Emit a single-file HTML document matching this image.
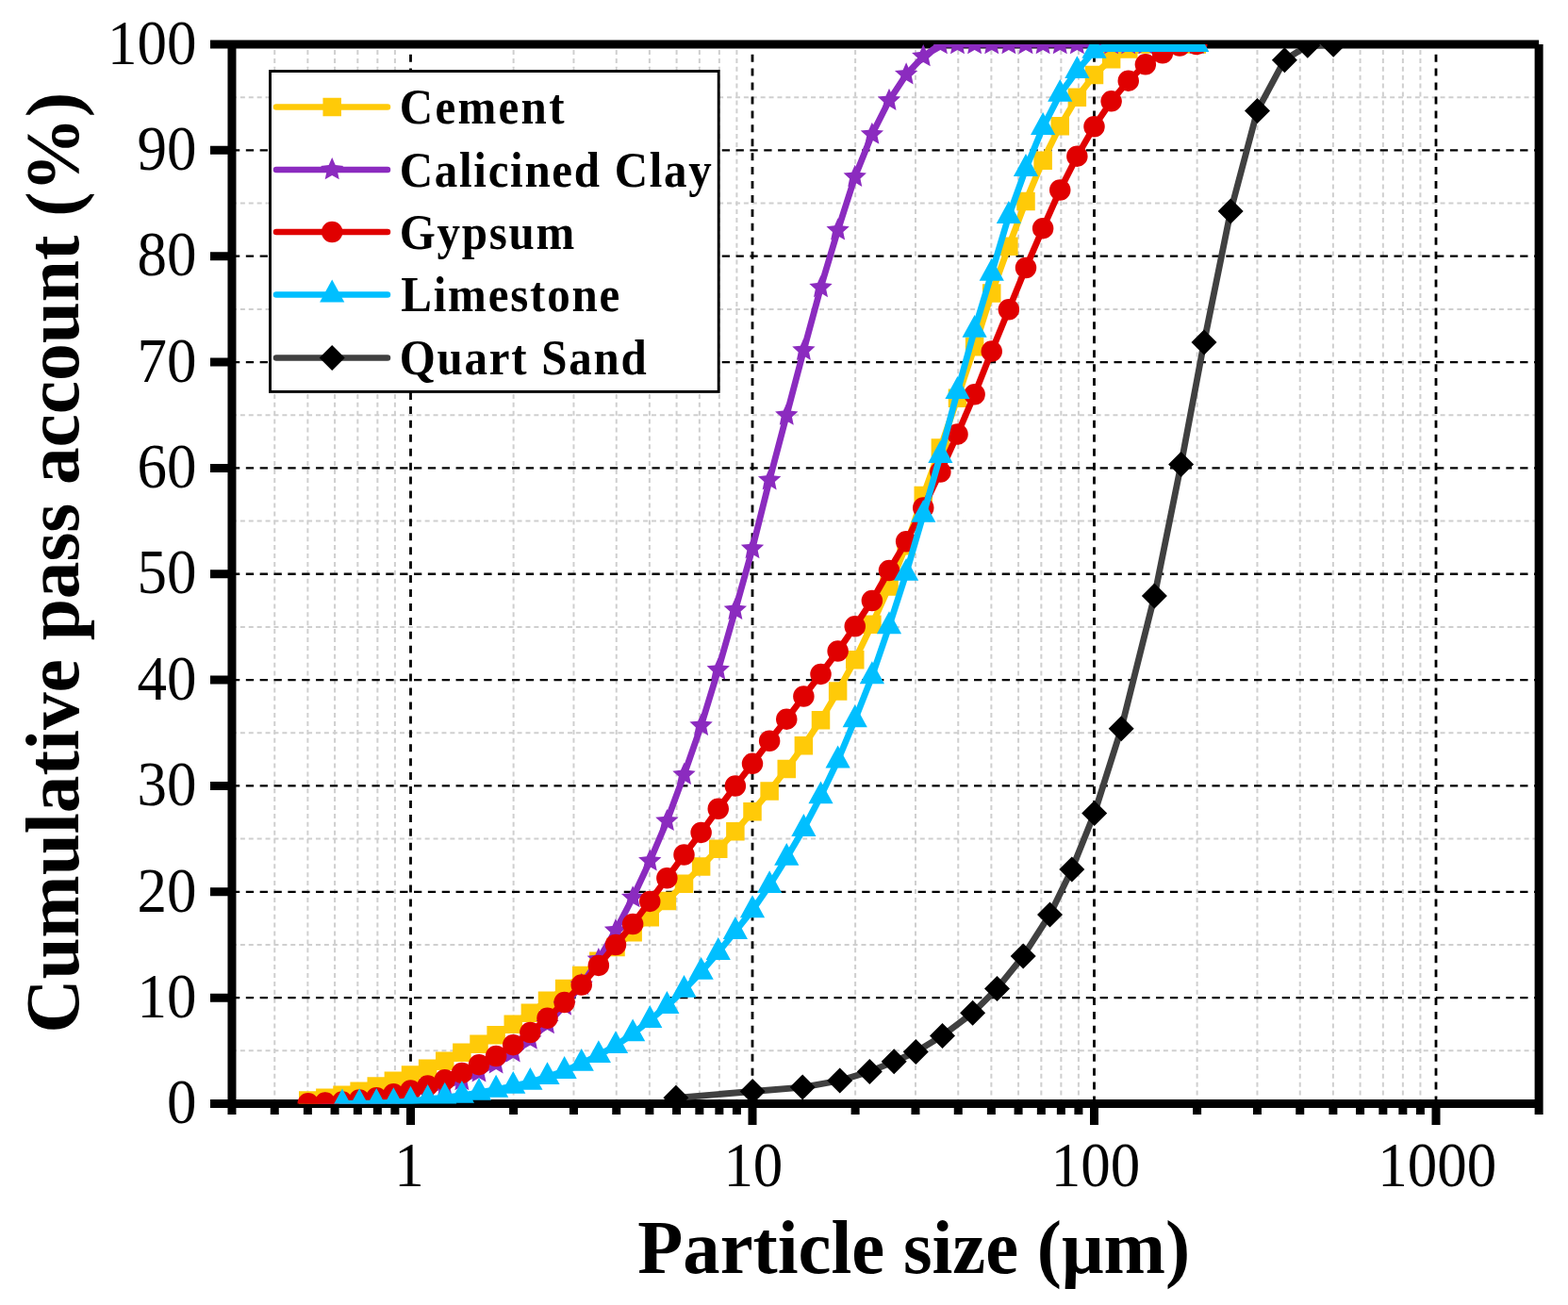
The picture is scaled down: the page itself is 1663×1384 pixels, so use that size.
<!DOCTYPE html>
<html><head><meta charset="utf-8"><title>Particle size distribution</title>
<style>html,body{margin:0;padding:0;background:#fff;}svg{display:block;}</style></head>
<body>
<svg width="1663" height="1384" viewBox="0 0 1663 1384">
<rect width="1663" height="1384" fill="#fff"/>
<defs><clipPath id="pa"><rect x="245.96" y="47" width="1386.17" height="1123.5"/></clipPath></defs>

<path fill="none" stroke="#CFCFCF" stroke-width="2" stroke-dasharray="5 3.9" d="M245.96 1170.5V47M291.25 1170.5V47M326.38 1170.5V47M355.08 1170.5V47M379.35 1170.5V47M400.37 1170.5V47M418.91 1170.5V47M544.62 1170.5V47M608.46 1170.5V47M653.75 1170.5V47M688.88 1170.5V47M717.58 1170.5V47M741.85 1170.5V47M762.87 1170.5V47M781.41 1170.5V47M907.12 1170.5V47M970.96 1170.5V47M1016.25 1170.5V47M1051.38 1170.5V47M1080.08 1170.5V47M1104.35 1170.5V47M1125.37 1170.5V47M1143.91 1170.5V47M1269.62 1170.5V47M1333.46 1170.5V47M1378.75 1170.5V47M1413.88 1170.5V47M1442.58 1170.5V47M1466.85 1170.5V47M1487.87 1170.5V47M1506.41 1170.5V47"/>
<path fill="none" stroke="#CFCFCF" stroke-width="2" stroke-dasharray="5 3.9" d="M245.96 1114.33H1632.12M245.96 1001.98H1632.12M245.96 889.62H1632.12M245.96 777.28H1632.12M245.96 664.92H1632.12M245.96 552.58H1632.12M245.96 440.23H1632.12M245.96 327.88H1632.12M245.96 215.53H1632.12M245.96 103.17H1632.12"/>
<path fill="none" stroke="#000" stroke-width="2.8" stroke-dasharray="8 6.93" d="M435.5 1170.5V47M798 1170.5V47M1160.5 1170.5V47M1523 1170.5V47"/>
<path fill="none" stroke="#000" stroke-width="2.3" stroke-dasharray="8.3 6.55" d="M245.96 1058.15H1632.12M245.96 945.8H1632.12M245.96 833.45H1632.12M245.96 721.1H1632.12M245.96 608.75H1632.12M245.96 496.4H1632.12M245.96 384.05H1632.12M245.96 271.7H1632.12M245.96 159.35H1632.12"/>
<path fill="none" stroke="#000" stroke-width="9.0" stroke-linecap="butt" d="M245.96 47H1632.12M245.96 1170.5H1632.12M245.96 47V1170.5M1632.12 47V1170.5M245.96 1170.5H223M245.96 1058.15H223M245.96 945.8H223M245.96 833.45H223M245.96 721.1H223M245.96 608.75H223M245.96 496.4H223M245.96 384.05H223M245.96 271.7H223M245.96 159.35H223M245.96 47H223M435.5 1170.5V1193M798 1170.5V1193M1160.5 1170.5V1193M1523 1170.5V1193M245.96 1170.5V1182M291.25 1170.5V1182M326.38 1170.5V1182M355.08 1170.5V1182M379.35 1170.5V1182M400.37 1170.5V1182M418.91 1170.5V1182M544.62 1170.5V1182M608.46 1170.5V1182M653.75 1170.5V1182M688.88 1170.5V1182M717.58 1170.5V1182M741.85 1170.5V1182M762.87 1170.5V1182M781.41 1170.5V1182M907.12 1170.5V1182M970.96 1170.5V1182M1016.25 1170.5V1182M1051.38 1170.5V1182M1080.08 1170.5V1182M1104.35 1170.5V1182M1125.37 1170.5V1182M1143.91 1170.5V1182M1269.62 1170.5V1182M1333.46 1170.5V1182M1378.75 1170.5V1182M1413.88 1170.5V1182M1442.58 1170.5V1182M1466.85 1170.5V1182M1487.87 1170.5V1182M1506.41 1170.5V1182M1632.12 1170.5V1182"/>
<g clip-path="url(#pa)">
<polyline fill="none" stroke="#FFCA08" stroke-width="6.8" stroke-linejoin="round" stroke-linecap="round" points="326.75,1167.02 344.88,1164.21 363,1161.17 381.12,1157.24 399.25,1152.07 417.38,1146.23 435.5,1140.05 453.62,1133.2 471.75,1125.22 489.88,1116.23 508,1107.25 526.12,1097.7 544.25,1086.24 562.38,1074.33 580.5,1061.3 598.62,1048.49 616.75,1034.56 634.88,1019.28 653,1004.45 671.12,988.72 689.25,972.76 707.38,955.46 725.5,937.37 743.62,919.06 761.75,900.3 779.88,881.76 798,860.86 816.12,838.96 834.25,815.47 852.38,790.76 870.5,763.79 888.62,733.12 906.75,699.87 924.88,662.34 943,622.01 961.12,578.75 979.25,525.61 997.38,475.05 1015.5,422.25 1033.62,367.87 1051.75,311.02 1069.88,261.14 1088,213.39 1106.12,170.14 1124.25,133.73 1142.38,103.17 1160.5,79.58 1178.62,62.73 1196.75,51.94 1214.88,47 1233,47 1251.12,47 1269.25,47"/>
<path fill="#FFCA08" d="M317 1157.27h19.5v19.5h-19.5zM335.12 1154.46h19.5v19.5h-19.5zM353.25 1151.42h19.5v19.5h-19.5zM371.38 1147.49h19.5v19.5h-19.5zM389.5 1142.32h19.5v19.5h-19.5zM407.62 1136.48h19.5v19.5h-19.5zM425.75 1130.3h19.5v19.5h-19.5zM443.88 1123.45h19.5v19.5h-19.5zM462 1115.47h19.5v19.5h-19.5zM480.12 1106.48h19.5v19.5h-19.5zM498.25 1097.5h19.5v19.5h-19.5zM516.38 1087.95h19.5v19.5h-19.5zM534.5 1076.49h19.5v19.5h-19.5zM552.62 1064.58h19.5v19.5h-19.5zM570.75 1051.55h19.5v19.5h-19.5zM588.88 1038.74h19.5v19.5h-19.5zM607 1024.81h19.5v19.5h-19.5zM625.12 1009.53h19.5v19.5h-19.5zM643.25 994.7h19.5v19.5h-19.5zM661.38 978.97h19.5v19.5h-19.5zM679.5 963.01h19.5v19.5h-19.5zM697.62 945.71h19.5v19.5h-19.5zM715.75 927.62h19.5v19.5h-19.5zM733.88 909.31h19.5v19.5h-19.5zM752 890.55h19.5v19.5h-19.5zM770.12 872.01h19.5v19.5h-19.5zM788.25 851.11h19.5v19.5h-19.5zM806.38 829.21h19.5v19.5h-19.5zM824.5 805.72h19.5v19.5h-19.5zM842.62 781.01h19.5v19.5h-19.5zM860.75 754.04h19.5v19.5h-19.5zM878.88 723.37h19.5v19.5h-19.5zM897 690.12h19.5v19.5h-19.5zM915.12 652.59h19.5v19.5h-19.5zM933.25 612.26h19.5v19.5h-19.5zM951.38 569h19.5v19.5h-19.5zM969.5 515.86h19.5v19.5h-19.5zM987.62 465.3h19.5v19.5h-19.5zM1005.75 412.5h19.5v19.5h-19.5zM1023.88 358.12h19.5v19.5h-19.5zM1042 301.27h19.5v19.5h-19.5zM1060.12 251.39h19.5v19.5h-19.5zM1078.25 203.64h19.5v19.5h-19.5zM1096.38 160.39h19.5v19.5h-19.5zM1114.5 123.98h19.5v19.5h-19.5zM1132.62 93.42h19.5v19.5h-19.5zM1150.75 69.83h19.5v19.5h-19.5zM1168.88 52.98h19.5v19.5h-19.5zM1187 42.19h19.5v19.5h-19.5zM1205.12 37.25h19.5v19.5h-19.5zM1223.25 37.25h19.5v19.5h-19.5zM1241.38 37.25h19.5v19.5h-19.5zM1259.5 37.25h19.5v19.5h-19.5z"/>
<polyline fill="none" stroke="#8B2BBF" stroke-width="6.8" stroke-linejoin="round" stroke-linecap="round" points="344.88,1170.5 363,1169.38 381.12,1168.25 399.25,1166.01 417.38,1163.2 435.5,1159.83 453.62,1155.89 471.75,1151.4 489.88,1145.78 508,1137.13 526.12,1128.03 544.25,1116.12 562.38,1102.42 580.5,1085.9 598.62,1066.35 616.75,1044.67 634.88,1017.7 653,986.81 671.12,951.98 689.25,913.22 707.38,870.75 725.5,821.65 743.62,769.52 761.75,710.31 779.88,646.72 798,581.79 816.12,509.1 834.25,440.45 852.38,371.58 870.5,304.84 888.62,244.17 906.75,187.55 924.88,142.5 943,106.55 961.12,79.02 979.25,59.92 997.38,47 1015.5,47 1033.62,47 1051.75,47 1069.88,47 1088,47 1106.12,47 1124.25,47 1142.38,47 1160.5,47 1178.62,47 1196.75,47 1214.88,47 1233,47 1251.12,47 1269.25,47"/>
<path fill="#8B2BBF" d="M344.88 1157.7 L348.4 1165.65 L357.05 1166.54 L350.58 1172.35 L352.4 1180.86 L344.88 1176.5 L337.35 1180.86 L339.17 1172.35 L332.7 1166.54 L341.35 1165.65zM363 1156.58 L366.53 1164.52 L375.17 1165.42 L368.71 1171.23 L370.52 1179.73 L363 1175.38 L355.48 1179.73 L357.29 1171.23 L350.83 1165.42 L359.47 1164.52zM381.12 1155.45 L384.65 1163.4 L393.3 1164.3 L386.83 1170.11 L388.65 1178.61 L381.12 1174.25 L373.6 1178.61 L375.42 1170.11 L368.95 1164.3 L377.6 1163.4zM399.25 1153.21 L402.78 1161.15 L411.42 1162.05 L404.96 1167.86 L406.77 1176.36 L399.25 1172.01 L391.73 1176.36 L393.54 1167.86 L387.08 1162.05 L395.72 1161.15zM417.38 1150.4 L420.9 1158.34 L429.55 1159.24 L423.08 1165.05 L424.9 1173.55 L417.38 1169.2 L409.85 1173.55 L411.67 1165.05 L405.2 1159.24 L413.85 1158.34zM435.5 1147.03 L439.03 1154.97 L447.67 1155.87 L441.21 1161.68 L443.02 1170.18 L435.5 1165.83 L427.98 1170.18 L429.79 1161.68 L423.33 1155.87 L431.97 1154.97zM453.62 1143.09 L457.15 1151.04 L465.8 1151.94 L459.33 1157.75 L461.15 1166.25 L453.62 1161.89 L446.1 1166.25 L447.92 1157.75 L441.45 1151.94 L450.1 1151.04zM471.75 1138.6 L475.28 1146.55 L483.92 1147.45 L477.46 1153.25 L479.27 1161.76 L471.75 1157.4 L464.23 1161.76 L466.04 1153.25 L459.58 1147.45 L468.22 1146.55zM489.88 1132.98 L493.4 1140.93 L502.05 1141.83 L495.58 1147.64 L497.4 1156.14 L489.88 1151.78 L482.35 1156.14 L484.17 1147.64 L477.7 1141.83 L486.35 1140.93zM508 1124.33 L511.53 1132.28 L520.17 1133.18 L513.71 1138.99 L515.52 1147.49 L508 1143.13 L500.48 1147.49 L502.29 1138.99 L495.83 1133.18 L504.47 1132.28zM526.12 1115.23 L529.65 1123.18 L538.3 1124.08 L531.83 1129.89 L533.65 1138.39 L526.12 1134.03 L518.6 1138.39 L520.42 1129.89 L513.95 1124.08 L522.6 1123.18zM544.25 1103.32 L547.78 1111.27 L556.42 1112.17 L549.96 1117.98 L551.77 1126.48 L544.25 1122.12 L536.73 1126.48 L538.54 1117.98 L532.08 1112.17 L540.72 1111.27zM562.38 1089.62 L565.9 1097.56 L574.55 1098.46 L568.08 1104.27 L569.9 1112.77 L562.38 1108.42 L554.85 1112.77 L556.67 1104.27 L550.2 1098.46 L558.85 1097.56zM580.5 1073.1 L584.03 1081.05 L592.67 1081.95 L586.21 1087.75 L588.02 1096.26 L580.5 1091.9 L572.98 1096.26 L574.79 1087.75 L568.33 1081.95 L576.97 1081.05zM598.62 1053.55 L602.15 1061.5 L610.8 1062.4 L604.33 1068.21 L606.15 1076.71 L598.62 1072.35 L591.1 1076.71 L592.92 1068.21 L586.45 1062.4 L595.1 1061.5zM616.75 1031.87 L620.28 1039.81 L628.92 1040.71 L622.46 1046.52 L624.27 1055.02 L616.75 1050.67 L609.23 1055.02 L611.04 1046.52 L604.58 1040.71 L613.22 1039.81zM634.88 1004.9 L638.4 1012.85 L647.05 1013.75 L640.58 1019.56 L642.4 1028.06 L634.88 1023.7 L627.35 1028.06 L629.17 1019.56 L622.7 1013.75 L631.35 1012.85zM653 974.01 L656.53 981.95 L665.17 982.85 L658.71 988.66 L660.52 997.16 L653 992.81 L645.48 997.16 L647.29 988.66 L640.83 982.85 L649.47 981.95zM671.12 939.18 L674.65 947.13 L683.3 948.02 L676.83 953.83 L678.65 962.33 L671.12 957.98 L663.6 962.33 L665.42 953.83 L658.95 948.02 L667.6 947.13zM689.25 900.42 L692.78 908.36 L701.42 909.26 L694.96 915.07 L696.77 923.57 L689.25 919.22 L681.73 923.57 L683.54 915.07 L677.08 909.26 L685.72 908.36zM707.38 857.95 L710.9 865.9 L719.55 866.79 L713.08 872.6 L714.9 881.11 L707.38 876.75 L699.85 881.11 L701.67 872.6 L695.2 866.79 L703.85 865.9zM725.5 808.85 L729.03 816.8 L737.67 817.7 L731.21 823.51 L733.02 832.01 L725.5 827.65 L717.98 832.01 L719.79 823.51 L713.33 817.7 L721.97 816.8zM743.62 756.72 L747.15 764.67 L755.8 765.57 L749.33 771.38 L751.15 779.88 L743.62 775.52 L736.1 779.88 L737.92 771.38 L731.45 765.57 L740.1 764.67zM761.75 697.51 L765.28 705.46 L773.92 706.36 L767.46 712.17 L769.27 720.67 L761.75 716.31 L754.23 720.67 L756.04 712.17 L749.58 706.36 L758.22 705.46zM779.88 633.92 L783.4 641.87 L792.05 642.77 L785.58 648.58 L787.4 657.08 L779.88 652.72 L772.35 657.08 L774.17 648.58 L767.7 642.77 L776.35 641.87zM798 568.99 L801.53 576.93 L810.17 577.83 L803.71 583.64 L805.52 592.14 L798 587.79 L790.48 592.14 L792.29 583.64 L785.83 577.83 L794.47 576.93zM816.12 496.3 L819.65 504.24 L828.3 505.14 L821.83 510.95 L823.65 519.45 L816.12 515.1 L808.6 519.45 L810.42 510.95 L803.95 505.14 L812.6 504.24zM834.25 427.65 L837.78 435.6 L846.42 436.49 L839.96 442.3 L841.77 450.81 L834.25 446.45 L826.73 450.81 L828.54 442.3 L822.08 436.49 L830.72 435.6zM852.38 358.78 L855.9 366.73 L864.55 367.62 L858.08 373.43 L859.9 381.93 L852.38 377.58 L844.85 381.93 L846.67 373.43 L840.2 367.62 L848.85 366.73zM870.5 292.04 L874.03 299.99 L882.67 300.89 L876.21 306.7 L878.02 315.2 L870.5 310.84 L862.98 315.2 L864.79 306.7 L858.33 300.89 L866.97 299.99zM888.62 231.37 L892.15 239.32 L900.8 240.22 L894.33 246.03 L896.15 254.53 L888.62 250.17 L881.1 254.53 L882.92 246.03 L876.45 240.22 L885.1 239.32zM906.75 174.75 L910.28 182.7 L918.92 183.59 L912.46 189.4 L914.27 197.91 L906.75 193.55 L899.23 197.91 L901.04 189.4 L894.58 183.59 L903.22 182.7zM924.88 129.7 L928.4 137.64 L937.05 138.54 L930.58 144.35 L932.4 152.85 L924.88 148.5 L917.35 152.85 L919.17 144.35 L912.7 138.54 L921.35 137.64zM943 93.75 L946.53 101.69 L955.17 102.59 L948.71 108.4 L950.52 116.9 L943 112.55 L935.48 116.9 L937.29 108.4 L930.83 102.59 L939.47 101.69zM961.12 66.22 L964.65 74.17 L973.3 75.06 L966.83 80.87 L968.65 89.38 L961.12 85.02 L953.6 89.38 L955.42 80.87 L948.95 75.06 L957.6 74.17zM979.25 47.12 L982.78 55.07 L991.42 55.96 L984.96 61.77 L986.77 70.28 L979.25 65.92 L971.73 70.28 L973.54 61.77 L967.08 55.96 L975.72 55.07zM997.38 34.2 L1000.9 42.15 L1009.55 43.04 L1003.08 48.85 L1004.9 57.36 L997.38 53 L989.85 57.36 L991.67 48.85 L985.2 43.04 L993.85 42.15zM1015.5 34.2 L1019.03 42.15 L1027.67 43.04 L1021.21 48.85 L1023.02 57.36 L1015.5 53 L1007.98 57.36 L1009.79 48.85 L1003.33 43.04 L1011.97 42.15zM1033.62 34.2 L1037.15 42.15 L1045.8 43.04 L1039.33 48.85 L1041.15 57.36 L1033.62 53 L1026.1 57.36 L1027.92 48.85 L1021.45 43.04 L1030.1 42.15zM1051.75 34.2 L1055.28 42.15 L1063.92 43.04 L1057.46 48.85 L1059.27 57.36 L1051.75 53 L1044.23 57.36 L1046.04 48.85 L1039.58 43.04 L1048.22 42.15zM1069.88 34.2 L1073.4 42.15 L1082.05 43.04 L1075.58 48.85 L1077.4 57.36 L1069.88 53 L1062.35 57.36 L1064.17 48.85 L1057.7 43.04 L1066.35 42.15zM1088 34.2 L1091.53 42.15 L1100.17 43.04 L1093.71 48.85 L1095.52 57.36 L1088 53 L1080.48 57.36 L1082.29 48.85 L1075.83 43.04 L1084.47 42.15zM1106.12 34.2 L1109.65 42.15 L1118.3 43.04 L1111.83 48.85 L1113.65 57.36 L1106.12 53 L1098.6 57.36 L1100.42 48.85 L1093.95 43.04 L1102.6 42.15zM1124.25 34.2 L1127.78 42.15 L1136.42 43.04 L1129.96 48.85 L1131.77 57.36 L1124.25 53 L1116.73 57.36 L1118.54 48.85 L1112.08 43.04 L1120.72 42.15zM1142.38 34.2 L1145.9 42.15 L1154.55 43.04 L1148.08 48.85 L1149.9 57.36 L1142.38 53 L1134.85 57.36 L1136.67 48.85 L1130.2 43.04 L1138.85 42.15zM1160.5 34.2 L1164.03 42.15 L1172.67 43.04 L1166.21 48.85 L1168.02 57.36 L1160.5 53 L1152.98 57.36 L1154.79 48.85 L1148.33 43.04 L1156.97 42.15zM1178.62 34.2 L1182.15 42.15 L1190.8 43.04 L1184.33 48.85 L1186.15 57.36 L1178.62 53 L1171.1 57.36 L1172.92 48.85 L1166.45 43.04 L1175.1 42.15zM1196.75 34.2 L1200.28 42.15 L1208.92 43.04 L1202.46 48.85 L1204.27 57.36 L1196.75 53 L1189.23 57.36 L1191.04 48.85 L1184.58 43.04 L1193.22 42.15zM1214.88 34.2 L1218.4 42.15 L1227.05 43.04 L1220.58 48.85 L1222.4 57.36 L1214.88 53 L1207.35 57.36 L1209.17 48.85 L1202.7 43.04 L1211.35 42.15zM1233 34.2 L1236.53 42.15 L1245.17 43.04 L1238.71 48.85 L1240.52 57.36 L1233 53 L1225.48 57.36 L1227.29 48.85 L1220.83 43.04 L1229.47 42.15zM1251.12 34.2 L1254.65 42.15 L1263.3 43.04 L1256.83 48.85 L1258.65 57.36 L1251.12 53 L1243.6 57.36 L1245.42 48.85 L1238.95 43.04 L1247.6 42.15zM1269.25 34.2 L1272.78 42.15 L1281.42 43.04 L1274.96 48.85 L1276.77 57.36 L1269.25 53 L1261.73 57.36 L1263.54 48.85 L1257.08 43.04 L1265.72 42.15z"/>
<polyline fill="none" stroke="#E00000" stroke-width="6.8" stroke-linejoin="round" stroke-linecap="round" points="326.75,1170.16 344.88,1169.6 363,1168.59 381.12,1166.57 399.25,1164.21 417.38,1160.16 435.5,1156.46 453.62,1151.4 471.75,1145.22 489.88,1137.92 508,1129.16 526.12,1119.94 544.25,1108.15 562.38,1095 580.5,1079.72 598.62,1062.98 616.75,1044.44 634.88,1023.88 653,1001.98 671.12,980.07 689.25,955.91 707.38,931.19 725.5,906.48 743.62,882.88 761.75,857.72 779.88,833.45 798,809.86 816.12,785.7 834.25,762.67 852.38,738.51 870.5,714.92 888.62,690.54 906.75,664.25 924.88,636.95 943,605.04 961.12,574.26 979.25,538.53 997.38,500.44 1015.5,460.45 1033.62,418.2 1051.75,372.59 1069.88,328.32 1088,283.95 1106.12,242.15 1124.25,201.48 1142.38,165.64 1160.5,134.18 1178.62,107.33 1196.75,85.65 1214.88,68.35 1233,56.21 1251.12,48.46 1269.25,47"/>
<path fill="#E00000" d="M315.5 1170.16a11.25 11.25 0 1 0 22.5 0a11.25 11.25 0 1 0 -22.5 0zM333.62 1169.6a11.25 11.25 0 1 0 22.5 0a11.25 11.25 0 1 0 -22.5 0zM351.75 1168.59a11.25 11.25 0 1 0 22.5 0a11.25 11.25 0 1 0 -22.5 0zM369.88 1166.57a11.25 11.25 0 1 0 22.5 0a11.25 11.25 0 1 0 -22.5 0zM388 1164.21a11.25 11.25 0 1 0 22.5 0a11.25 11.25 0 1 0 -22.5 0zM406.12 1160.16a11.25 11.25 0 1 0 22.5 0a11.25 11.25 0 1 0 -22.5 0zM424.25 1156.46a11.25 11.25 0 1 0 22.5 0a11.25 11.25 0 1 0 -22.5 0zM442.38 1151.4a11.25 11.25 0 1 0 22.5 0a11.25 11.25 0 1 0 -22.5 0zM460.5 1145.22a11.25 11.25 0 1 0 22.5 0a11.25 11.25 0 1 0 -22.5 0zM478.62 1137.92a11.25 11.25 0 1 0 22.5 0a11.25 11.25 0 1 0 -22.5 0zM496.75 1129.16a11.25 11.25 0 1 0 22.5 0a11.25 11.25 0 1 0 -22.5 0zM514.88 1119.94a11.25 11.25 0 1 0 22.5 0a11.25 11.25 0 1 0 -22.5 0zM533 1108.15a11.25 11.25 0 1 0 22.5 0a11.25 11.25 0 1 0 -22.5 0zM551.12 1095a11.25 11.25 0 1 0 22.5 0a11.25 11.25 0 1 0 -22.5 0zM569.25 1079.72a11.25 11.25 0 1 0 22.5 0a11.25 11.25 0 1 0 -22.5 0zM587.38 1062.98a11.25 11.25 0 1 0 22.5 0a11.25 11.25 0 1 0 -22.5 0zM605.5 1044.44a11.25 11.25 0 1 0 22.5 0a11.25 11.25 0 1 0 -22.5 0zM623.62 1023.88a11.25 11.25 0 1 0 22.5 0a11.25 11.25 0 1 0 -22.5 0zM641.75 1001.98a11.25 11.25 0 1 0 22.5 0a11.25 11.25 0 1 0 -22.5 0zM659.88 980.07a11.25 11.25 0 1 0 22.5 0a11.25 11.25 0 1 0 -22.5 0zM678 955.91a11.25 11.25 0 1 0 22.5 0a11.25 11.25 0 1 0 -22.5 0zM696.12 931.19a11.25 11.25 0 1 0 22.5 0a11.25 11.25 0 1 0 -22.5 0zM714.25 906.48a11.25 11.25 0 1 0 22.5 0a11.25 11.25 0 1 0 -22.5 0zM732.38 882.88a11.25 11.25 0 1 0 22.5 0a11.25 11.25 0 1 0 -22.5 0zM750.5 857.72a11.25 11.25 0 1 0 22.5 0a11.25 11.25 0 1 0 -22.5 0zM768.62 833.45a11.25 11.25 0 1 0 22.5 0a11.25 11.25 0 1 0 -22.5 0zM786.75 809.86a11.25 11.25 0 1 0 22.5 0a11.25 11.25 0 1 0 -22.5 0zM804.88 785.7a11.25 11.25 0 1 0 22.5 0a11.25 11.25 0 1 0 -22.5 0zM823 762.67a11.25 11.25 0 1 0 22.5 0a11.25 11.25 0 1 0 -22.5 0zM841.12 738.51a11.25 11.25 0 1 0 22.5 0a11.25 11.25 0 1 0 -22.5 0zM859.25 714.92a11.25 11.25 0 1 0 22.5 0a11.25 11.25 0 1 0 -22.5 0zM877.38 690.54a11.25 11.25 0 1 0 22.5 0a11.25 11.25 0 1 0 -22.5 0zM895.5 664.25a11.25 11.25 0 1 0 22.5 0a11.25 11.25 0 1 0 -22.5 0zM913.62 636.95a11.25 11.25 0 1 0 22.5 0a11.25 11.25 0 1 0 -22.5 0zM931.75 605.04a11.25 11.25 0 1 0 22.5 0a11.25 11.25 0 1 0 -22.5 0zM949.88 574.26a11.25 11.25 0 1 0 22.5 0a11.25 11.25 0 1 0 -22.5 0zM968 538.53a11.25 11.25 0 1 0 22.5 0a11.25 11.25 0 1 0 -22.5 0zM986.12 500.44a11.25 11.25 0 1 0 22.5 0a11.25 11.25 0 1 0 -22.5 0zM1004.25 460.45a11.25 11.25 0 1 0 22.5 0a11.25 11.25 0 1 0 -22.5 0zM1022.38 418.2a11.25 11.25 0 1 0 22.5 0a11.25 11.25 0 1 0 -22.5 0zM1040.5 372.59a11.25 11.25 0 1 0 22.5 0a11.25 11.25 0 1 0 -22.5 0zM1058.62 328.32a11.25 11.25 0 1 0 22.5 0a11.25 11.25 0 1 0 -22.5 0zM1076.75 283.95a11.25 11.25 0 1 0 22.5 0a11.25 11.25 0 1 0 -22.5 0zM1094.88 242.15a11.25 11.25 0 1 0 22.5 0a11.25 11.25 0 1 0 -22.5 0zM1113 201.48a11.25 11.25 0 1 0 22.5 0a11.25 11.25 0 1 0 -22.5 0zM1131.12 165.64a11.25 11.25 0 1 0 22.5 0a11.25 11.25 0 1 0 -22.5 0zM1149.25 134.18a11.25 11.25 0 1 0 22.5 0a11.25 11.25 0 1 0 -22.5 0zM1167.38 107.33a11.25 11.25 0 1 0 22.5 0a11.25 11.25 0 1 0 -22.5 0zM1185.5 85.65a11.25 11.25 0 1 0 22.5 0a11.25 11.25 0 1 0 -22.5 0zM1203.62 68.35a11.25 11.25 0 1 0 22.5 0a11.25 11.25 0 1 0 -22.5 0zM1221.75 56.21a11.25 11.25 0 1 0 22.5 0a11.25 11.25 0 1 0 -22.5 0zM1239.88 48.46a11.25 11.25 0 1 0 22.5 0a11.25 11.25 0 1 0 -22.5 0zM1258 47a11.25 11.25 0 1 0 22.5 0a11.25 11.25 0 1 0 -22.5 0z"/>
<polyline fill="none" stroke="#00BFFF" stroke-width="6.8" stroke-linejoin="round" stroke-linecap="round" points="363,1170.5 381.12,1170.05 399.25,1169.94 417.38,1169.04 435.5,1167.69 453.62,1165.78 471.75,1163.76 489.88,1161.85 508,1158.82 526.12,1155.67 544.25,1151.85 562.38,1147.81 580.5,1142.08 598.62,1135.9 616.75,1127.81 634.88,1119.04 653,1109.04 671.12,1096.35 689.25,1081.97 707.38,1066.91 725.5,1049.84 743.62,1030.85 761.75,1009.95 779.88,987.93 798,965.24 816.12,939.06 834.25,909.85 852.38,878.95 870.5,844.35 888.62,806.49 906.75,763.23 924.88,717.17 943,664.25 961.12,607.85 979.25,545.83 997.38,482.92 1015.5,414.95 1033.62,349.78 1051.75,289.68 1069.88,229.01 1088,178.9 1106.12,134.97 1124.25,99.8 1142.38,75.09 1160.5,53.74 1178.62,47 1196.75,47 1214.88,47 1233,47 1251.12,47 1269.25,47"/>
<path fill="#00BFFF" d="M363 1154.6L376.1 1178.5L349.9 1178.5zM381.12 1154.15L394.23 1178.05L368.02 1178.05zM399.25 1154.04L412.35 1177.94L386.15 1177.94zM417.38 1153.14L430.48 1177.04L404.27 1177.04zM435.5 1151.79L448.6 1175.69L422.4 1175.69zM453.62 1149.88L466.73 1173.78L440.52 1173.78zM471.75 1147.86L484.85 1171.76L458.65 1171.76zM489.88 1145.95L502.98 1169.85L476.77 1169.85zM508 1142.92L521.1 1166.82L494.9 1166.82zM526.12 1139.77L539.23 1163.67L513.02 1163.67zM544.25 1135.95L557.35 1159.85L531.15 1159.85zM562.38 1131.91L575.48 1155.81L549.27 1155.81zM580.5 1126.18L593.6 1150.08L567.4 1150.08zM598.62 1120L611.73 1143.9L585.52 1143.9zM616.75 1111.91L629.85 1135.81L603.65 1135.81zM634.88 1103.14L647.98 1127.04L621.77 1127.04zM653 1093.14L666.1 1117.04L639.9 1117.04zM671.12 1080.45L684.23 1104.35L658.02 1104.35zM689.25 1066.07L702.35 1089.97L676.15 1089.97zM707.38 1051.01L720.48 1074.91L694.27 1074.91zM725.5 1033.94L738.6 1057.84L712.4 1057.84zM743.62 1014.95L756.73 1038.85L730.52 1038.85zM761.75 994.05L774.85 1017.95L748.65 1017.95zM779.88 972.03L792.98 995.93L766.77 995.93zM798 949.34L811.1 973.24L784.9 973.24zM816.12 923.16L829.23 947.06L803.02 947.06zM834.25 893.95L847.35 917.85L821.15 917.85zM852.38 863.05L865.48 886.95L839.27 886.95zM870.5 828.45L883.6 852.35L857.4 852.35zM888.62 790.59L901.73 814.49L875.52 814.49zM906.75 747.33L919.85 771.23L893.65 771.23zM924.88 701.27L937.98 725.17L911.77 725.17zM943 648.35L956.1 672.25L929.9 672.25zM961.12 591.95L974.23 615.85L948.02 615.85zM979.25 529.93L992.35 553.83L966.15 553.83zM997.38 467.02L1010.48 490.92L984.27 490.92zM1015.5 399.05L1028.6 422.95L1002.4 422.95zM1033.62 333.88L1046.72 357.78L1020.52 357.78zM1051.75 273.78L1064.85 297.68L1038.65 297.68zM1069.88 213.11L1082.97 237.01L1056.78 237.01zM1088 163L1101.1 186.9L1074.9 186.9zM1106.12 119.07L1119.22 142.97L1093.03 142.97zM1124.25 83.9L1137.35 107.8L1111.15 107.8zM1142.38 59.19L1155.47 83.09L1129.28 83.09zM1160.5 37.84L1173.6 61.74L1147.4 61.74zM1178.62 31.1L1191.72 55L1165.53 55zM1196.75 31.1L1209.85 55L1183.65 55zM1214.88 31.1L1227.97 55L1201.78 55zM1233 31.1L1246.1 55L1219.9 55zM1251.12 31.1L1264.22 55L1238.03 55zM1269.25 31.1L1282.35 55L1256.15 55z"/>
<polyline fill="none" stroke="#404040" stroke-width="6.8" stroke-linejoin="round" stroke-linecap="round" points="716.9,1164.3 798.1,1157.5 851.2,1153.1 890.7,1146 922.3,1136.4 948.2,1125.8 971.3,1115.6 999.5,1098.4 1031.6,1074.3 1057.5,1048.4 1085.2,1014 1113.5,969.9 1136.8,922 1160.7,862.6 1189.2,772.7 1224.4,632.1 1252.6,492.6 1277,363 1305.2,224 1333.5,117.4 1362.4,63.7 1386.8,48.3 1414.2,47.3"/>
<path fill="#000" d="M716.9 1150.8L730.4 1164.3L716.9 1177.8L703.4 1164.3zM798.1 1144L811.6 1157.5L798.1 1171L784.6 1157.5zM851.2 1139.6L864.7 1153.1L851.2 1166.6L837.7 1153.1zM890.7 1132.5L904.2 1146L890.7 1159.5L877.2 1146zM922.3 1122.9L935.8 1136.4L922.3 1149.9L908.8 1136.4zM948.2 1112.3L961.7 1125.8L948.2 1139.3L934.7 1125.8zM971.3 1102.1L984.8 1115.6L971.3 1129.1L957.8 1115.6zM999.5 1084.9L1013 1098.4L999.5 1111.9L986 1098.4zM1031.6 1060.8L1045.1 1074.3L1031.6 1087.8L1018.1 1074.3zM1057.5 1034.9L1071 1048.4L1057.5 1061.9L1044 1048.4zM1085.2 1000.5L1098.7 1014L1085.2 1027.5L1071.7 1014zM1113.5 956.4L1127 969.9L1113.5 983.4L1100 969.9zM1136.8 908.5L1150.3 922L1136.8 935.5L1123.3 922zM1160.7 849.1L1174.2 862.6L1160.7 876.1L1147.2 862.6zM1189.2 759.2L1202.7 772.7L1189.2 786.2L1175.7 772.7zM1224.4 618.6L1237.9 632.1L1224.4 645.6L1210.9 632.1zM1252.6 479.1L1266.1 492.6L1252.6 506.1L1239.1 492.6zM1277 349.5L1290.5 363L1277 376.5L1263.5 363zM1305.2 210.5L1318.7 224L1305.2 237.5L1291.7 224zM1333.5 103.9L1347 117.4L1333.5 130.9L1320 117.4zM1362.4 50.2L1375.9 63.7L1362.4 77.2L1348.9 63.7zM1386.8 34.8L1400.3 48.3L1386.8 61.8L1373.3 48.3zM1414.2 33.8L1427.7 47.3L1414.2 60.8L1400.7 47.3z"/>
</g>
<rect x="286.5" y="75.5" width="475.7" height="339.9" fill="#fff" stroke="#000" stroke-width="2.9"/>
<path stroke="#FFCA08" stroke-width="6.5" stroke-linecap="round" d="M293 113.5H411"/>
<path fill="#FFCA08" d="M342.45 103.75h19.5v19.5h-19.5z"/>
<text x="0" y="0" font-family="'Liberation Serif', 'Times New Roman', serif" font-weight="bold" font-size="100" letter-spacing="4.6857" transform="matrix(0.49 0 0 0.535 423.75 131.4)">Cement</text>
<path stroke="#8B2BBF" stroke-width="6.5" stroke-linecap="round" d="M293 179.9H411"/>
<path fill="#8B2BBF" d="M352.2 167.1 L355.73 175.05 L364.37 175.94 L357.91 181.75 L359.72 190.26 L352.2 185.9 L344.68 190.26 L346.49 181.75 L340.03 175.94 L348.67 175.05z"/>
<text x="0" y="0" font-family="'Liberation Serif', 'Times New Roman', serif" font-weight="bold" font-size="100" letter-spacing="3.4772" transform="matrix(0.49 0 0 0.535 423.75 197.8)">Calicined Clay</text>
<path stroke="#E00000" stroke-width="6.5" stroke-linecap="round" d="M293 246H411"/>
<path fill="#E00000" d="M340.95 246a11.25 11.25 0 1 0 22.5 0a11.25 11.25 0 1 0 -22.5 0z"/>
<text x="0" y="0" font-family="'Liberation Serif', 'Times New Roman', serif" font-weight="bold" font-size="100" letter-spacing="3.4898" transform="matrix(0.49 0 0 0.535 423.75 263.9)">Gypsum</text>
<path stroke="#00BFFF" stroke-width="6.5" stroke-linecap="round" d="M293 312.5H411"/>
<path fill="#00BFFF" d="M352.2 296.6L365.3 320.5L339.1 320.5z"/>
<text x="0" y="0" font-family="'Liberation Serif', 'Times New Roman', serif" font-weight="bold" font-size="100" letter-spacing="3.6735" transform="matrix(0.49 0 0 0.535 425.22 330.4)">Limestone</text>
<path stroke="#404040" stroke-width="6.5" stroke-linecap="round" d="M293 379.4H411"/>
<path fill="#000" d="M352.2 365.9L365.7 379.4L352.2 392.9L338.7 379.4z"/>
<text x="0" y="0" font-family="'Liberation Serif', 'Times New Roman', serif" font-weight="bold" font-size="100" letter-spacing="3.5306" transform="matrix(0.49 0 0 0.535 423.75 397.3)">Quart Sand</text>
<text x="0" y="0" font-family="'Liberation Serif', 'Times New Roman', serif" font-weight="normal" font-size="100" transform="matrix(0.63 0 0 0.679 177.02 1191.2)">0</text>
<text x="0" y="0" font-family="'Liberation Serif', 'Times New Roman', serif" font-weight="normal" font-size="100" transform="matrix(0.63 0 0 0.679 145.52 1078.85)">10</text>
<text x="0" y="0" font-family="'Liberation Serif', 'Times New Roman', serif" font-weight="normal" font-size="100" transform="matrix(0.63 0 0 0.679 145.52 966.5)">20</text>
<text x="0" y="0" font-family="'Liberation Serif', 'Times New Roman', serif" font-weight="normal" font-size="100" transform="matrix(0.63 0 0 0.679 145.52 854.15)">30</text>
<text x="0" y="0" font-family="'Liberation Serif', 'Times New Roman', serif" font-weight="normal" font-size="100" transform="matrix(0.63 0 0 0.679 145.52 741.8)">40</text>
<text x="0" y="0" font-family="'Liberation Serif', 'Times New Roman', serif" font-weight="normal" font-size="100" transform="matrix(0.63 0 0 0.679 145.52 629.45)">50</text>
<text x="0" y="0" font-family="'Liberation Serif', 'Times New Roman', serif" font-weight="normal" font-size="100" transform="matrix(0.63 0 0 0.679 145.52 517.1)">60</text>
<text x="0" y="0" font-family="'Liberation Serif', 'Times New Roman', serif" font-weight="normal" font-size="100" transform="matrix(0.63 0 0 0.679 145.52 404.75)">70</text>
<text x="0" y="0" font-family="'Liberation Serif', 'Times New Roman', serif" font-weight="normal" font-size="100" transform="matrix(0.63 0 0 0.679 145.52 292.4)">80</text>
<text x="0" y="0" font-family="'Liberation Serif', 'Times New Roman', serif" font-weight="normal" font-size="100" transform="matrix(0.63 0 0 0.679 145.52 180.05)">90</text>
<text x="0" y="0" font-family="'Liberation Serif', 'Times New Roman', serif" font-weight="normal" font-size="100" transform="matrix(0.63 0 0 0.679 114.02 67.7)">100</text>
<text x="0" y="0" font-family="'Liberation Serif', 'Times New Roman', serif" font-weight="normal" font-size="100" transform="matrix(0.63 0 0 0.679 418.31 1257.7)">1</text>
<text x="0" y="0" font-family="'Liberation Serif', 'Times New Roman', serif" font-weight="normal" font-size="100" transform="matrix(0.63 0 0 0.679 767.38 1257.7)">10</text>
<text x="0" y="0" font-family="'Liberation Serif', 'Times New Roman', serif" font-weight="normal" font-size="100" transform="matrix(0.63 0 0 0.679 1114.67 1257.7)">100</text>
<text x="0" y="0" font-family="'Liberation Serif', 'Times New Roman', serif" font-weight="normal" font-size="100" transform="matrix(0.63 0 0 0.679 1461.27 1257.7)">1000</text>
<text x="0" y="0" font-family="'Liberation Serif', 'Times New Roman', serif" font-weight="bold" font-size="100" transform="matrix(0.7865 0 0 0.8 676.33 1349.9)">Particle size (μm)</text>
<text x="0" y="0" font-family="'Liberation Serif', 'Times New Roman', serif" font-weight="bold" font-size="100" transform="matrix(0 -0.7932 0.805 0 83.19 1095.77)">Cumulative pass account (%)</text>
</svg>
</body></html>
